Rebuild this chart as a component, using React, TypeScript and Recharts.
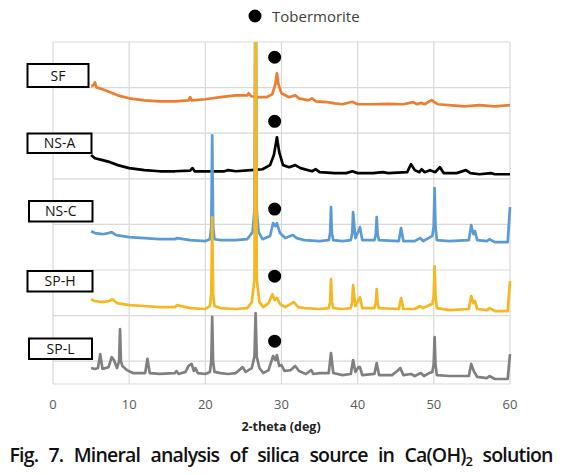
import React from 'react';
import { ComposedChart, Line, Scatter, XAxis, YAxis, CartesianGrid } from 'recharts';

// XRD traces, already stacked (0-15 vertical units, one per grid row)
const sfTrace = [
    [5, 13.06], [5.3, 13.1], [5.5, 13.23], [5.7, 13.01], [6.5, 12.93], [7.5, 12.8], [8.5, 12.66],
    [10, 12.53], [12, 12.44], [14, 12.4], [16, 12.4], [17.8, 12.44], [18, 12.58], [18.2, 12.44],
    [20, 12.49], [22, 12.58], [24, 12.66], [25.5, 12.66], [25.7, 12.75], [26, 12.62], [27, 12.58],
    [28, 12.58], [28.8, 12.71], [29.2, 13.15], [29.4, 13.63], [29.6, 13.15], [30, 12.75], [31, 12.58],
    [31.8, 12.66], [32.3, 12.53], [33.5, 12.44], [34, 12.53], [34.5, 12.4], [36, 12.36], [37, 12.31],
    [38, 12.27], [39.3, 12.38], [40, 12.27], [42, 12.27], [44, 12.29], [46, 12.27], [47.3, 12.36],
    [47.8, 12.27], [48.3, 12.33], [48.8, 12.27], [49.7, 12.45], [50.5, 12.27], [52, 12.23],
    [54, 12.18], [56, 12.23], [58, 12.18], [60, 12.23],
];

const nsaTrace = [
    [5, 10.04], [5.5, 9.9], [6.5, 9.82], [7.5, 9.73], [8.5, 9.6], [10, 9.47], [12, 9.38], [14, 9.33],
    [16, 9.33], [18, 9.36], [18.3, 9.47], [18.6, 9.33], [20, 9.33], [22.5, 9.33], [23, 9.38],
    [24, 9.33], [26, 9.38], [27.5, 9.42], [28.5, 9.6], [29.0, 10.04], [29.4, 10.82], [29.7, 10.17],
    [30.2, 9.6], [31, 9.51], [31.8, 9.6], [32.5, 9.47], [34, 9.33], [34.5, 9.42], [35, 9.29],
    [37, 9.25], [38.5, 9.25], [39.3, 9.33], [40, 9.25], [42, 9.25], [43.3, 9.29], [44, 9.25],
    [46.5, 9.29], [47.0, 9.64], [47.5, 9.38], [48.1, 9.29], [48.4, 9.42], [48.8, 9.29], [49.5, 9.38],
    [50.2, 9.29], [50.8, 9.51], [51.3, 9.25], [53, 9.25], [54.2, 9.38], [54.8, 9.25], [56, 9.2],
    [57.5, 9.25], [58, 9.2], [60, 9.2],
];

const nscTrace = [
    [5, 6.7], [5.5, 6.62], [6.5, 6.57], [7.3, 6.62], [7.7, 6.66], [8.3, 6.53], [10, 6.44], [12, 6.4],
    [14, 6.35], [16, 6.35], [16.3, 6.4], [18, 6.31], [20, 6.27], [20.6, 6.35], [20.78, 6.9], [20.9, 10.91],
    [21.02, 6.9], [21.2, 6.35], [22, 6.31], [24, 6.31], [25.5, 6.35], [26.2, 6.66], [26.45, 7.6], [26.6, 20],
    [26.75, 7.6], [27.0, 6.66], [27.5, 6.35], [28.5, 6.49], [28.9, 7.06], [29.2, 6.92], [29.4, 7.06],
    [29.8, 6.62], [30.5, 6.4], [31.5, 6.53], [32, 6.4], [33, 6.31], [35, 6.27], [36.2, 6.31], [36.38, 6.6],
    [36.5, 7.76], [36.62, 6.6], [36.8, 6.31], [38, 6.27], [39.1, 6.31], [39.28, 6.6], [39.4, 7.54], [39.7, 6.4],
    [40.1, 6.7], [40.3, 6.88], [40.6, 6.31], [42.2, 6.31], [42.38, 6.55], [42.5, 7.32], [42.62, 6.55],
    [42.8, 6.31], [45.4, 6.27], [45.7, 6.84], [46.0, 6.27], [47.5, 6.27], [48.2, 6.4], [48.6, 6.27],
    [49.3, 6.4], [49.8, 6.49], [49.98, 6.9], [50.1, 8.59], [50.22, 6.9], [50.4, 6.31], [52, 6.27],
    [54.6, 6.31], [54.9, 6.97], [55.2, 6.57], [55.4, 6.7], [55.7, 6.31], [57, 6.27], [57.3, 6.35],
    [58, 6.22], [59.7, 6.22], [60, 7.76],
];

const sphTrace = [
    [5, 3.72], [5.5, 3.64], [6.5, 3.59], [7.4, 3.64], [7.8, 3.72], [8.4, 3.55], [10, 3.46], [12, 3.42],
    [14, 3.37], [16, 3.37], [16.3, 3.46], [18, 3.33], [20, 3.29], [20.6, 3.42], [20.78, 3.95], [20.9, 7.32],
    [21.02, 3.95], [21.2, 3.42], [22, 3.33], [24, 3.29], [25.5, 3.33], [26.1, 3.59], [26.45, 4.6], [26.6, 20],
    [26.75, 4.6], [27.1, 3.59], [27.6, 3.37], [28.3, 3.55], [28.8, 3.94], [29.1, 3.68], [29.4, 3.77],
    [29.8, 3.51], [30.5, 3.37], [31.6, 3.59], [32.2, 3.37], [33, 3.33], [35, 3.29], [36.2, 3.33], [36.38, 3.6],
    [36.5, 4.6], [36.62, 3.6], [36.8, 3.33], [38, 3.29], [39.1, 3.33], [39.28, 3.6], [39.4, 4.34], [39.7, 3.42],
    [40.1, 3.68], [40.3, 3.81], [40.6, 3.33], [42.2, 3.33], [42.38, 3.55], [42.5, 4.16], [42.62, 3.55],
    [42.8, 3.33], [45.4, 3.29], [45.7, 3.77], [46.0, 3.29], [47.5, 3.29], [48.2, 3.42], [48.6, 3.33],
    [49.4, 3.46], [49.8, 3.51], [49.98, 3.85], [50.1, 5.17], [50.22, 3.85], [50.4, 3.33], [52, 3.24],
    [54.6, 3.29], [54.9, 3.86], [55.2, 3.55], [55.4, 3.64], [55.7, 3.29], [57, 3.24], [57.3, 3.33],
    [58, 3.2], [59.7, 3.2], [60, 4.51],
];

const splTrace = [
    [5, 0.7], [5.5, 0.66], [5.9, 0.7], [6.2, 1.31], [6.5, 0.66], [7.3, 0.74], [7.7, 1.18], [8.0, 1.05],
    [8.4, 0.7], [8.68, 1.0], [8.8, 2.41], [8.92, 1.0], [9.1, 0.79], [9.7, 0.61], [10.5, 0.48], [12.1, 0.48],
    [12.4, 1.1], [12.7, 0.48], [14, 0.44], [16, 0.48], [16.2, 0.57], [16.5, 0.44], [17.4, 0.53], [17.8, 0.79],
    [18.2, 0.88], [18.5, 0.57], [18.7, 0.7], [19, 0.48], [20, 0.44], [20.6, 0.53], [20.78, 1.0], [20.9, 2.94],
    [21.02, 1.0], [21.2, 0.53], [22, 0.48], [23, 0.44], [24, 0.48], [24.9, 0.74], [25.3, 0.53], [26.1, 0.7],
    [26.45, 1.2], [26.6, 3.11], [26.75, 1.2], [27.1, 0.7], [27.6, 0.48], [28.3, 0.61], [28.9, 1.23],
    [29.2, 1.05], [29.4, 1.27], [29.7, 0.79], [30.0, 0.83], [30.4, 0.57], [31.2, 0.61], [31.8, 0.79],
    [32.3, 0.57], [33.2, 0.44], [33.9, 0.61], [34.2, 0.44], [35, 0.48], [36.2, 0.48], [36.5, 1.36],
    [36.8, 0.48], [38, 0.39], [39.1, 0.44], [39.4, 1.05], [39.7, 0.53], [40.1, 0.74], [40.3, 0.74],
    [40.6, 0.39], [42.2, 0.44], [42.5, 0.92], [42.8, 0.39], [44.5, 0.39], [45.2, 0.57], [45.6, 0.7],
    [46.0, 0.39], [47, 0.44], [47.5, 0.35], [48.3, 0.48], [48.7, 0.35], [49.4, 0.48], [49.8, 0.53],
    [49.98, 0.85], [50.1, 2.06], [50.22, 0.85], [50.4, 0.39], [52, 0.35], [54.6, 0.35], [54.9, 0.88],
    [55.3, 0.53], [55.7, 0.31], [57, 0.26], [57.3, 0.35], [58, 0.22], [59.7, 0.22], [60, 1.31],
];

// tobermorite markers above the ~29 deg peak of each trace
const tobermorite = [
    [29.1, 14.33], [29.1, 11.52], [29.1, 7.67], [29.1, 4.73], [29.1, 1.88],
];

const xTicks = [0, 10, 20, 30, 40, 50, 60];
const yTicks = [0, 1, 2, 3, 4, 5, 6, 7, 8, 9, 10, 11, 12, 13, 14, 15];

const sampleNames = ['SF', 'NS-A', 'NS-C', 'SP-H', 'SP-L'];

const toPts = (arr: number[][]) => arr.map(([x, y]) => ({ x, y }));

const series = [
    { name: 'SF', data: toPts(sfTrace), color: '#ED7D31' },
    { name: 'NS-A', data: toPts(nsaTrace), color: '#000000' },
    { name: 'NS-C', data: toPts(nscTrace), color: '#5B9BD5' },
    { name: 'SP-H', data: toPts(sphTrace), color: '#F5B820' },
    { name: 'SP-L', data: toPts(splTrace), color: '#808080' },
];

// label boxes on the left [x, y, w, h]
const boxes = [
    [27.5, 64, 61, 23],
    [27.5, 133.5, 64, 19.5],
    [29, 201, 63.5, 20.5],
    [27.5, 271, 65, 20.5],
    [29, 338.5, 63, 20.5],
];

const Dot = (props: any) => <circle cx={props.cx} cy={props.cy} r={6.5} fill="#000" />;

export default function App() {
    return (
        <div style={{ position: 'absolute', left: 0, top: 0, width: 573, height: 475, background: '#fff', fontFamily: '"Open Sans", sans-serif' }}>
            <ComposedChart width={573} height={420} margin={{ top: 42, right: 63, bottom: 0, left: 53 }}>
                <CartesianGrid stroke="#D9D9D9" strokeWidth={1.2} horizontalValues={yTicks} verticalValues={xTicks} />
                <XAxis
                    type="number"
                    dataKey="x"
                    domain={[0, 60]}
                    ticks={xTicks}
                    height={36}
                    tickLine={false}
                    tickSize={0}
                    tickMargin={16}
                    axisLine={{ stroke: '#D9D9D9' }}
                    tick={{ fill: '#595959', fontSize: 13 }}
                    allowDuplicatedCategory={false}
                />
                <YAxis type="number" dataKey="y" domain={[0, 15]} ticks={yTicks} hide allowDataOverflow />
                {series.map(s => (
                    <Line
                        key={s.name}
                        data={s.data}
                        dataKey="y"
                        type="linear"
                        stroke={s.color}
                        strokeWidth={2.7}
                        strokeLinejoin="round"
                        dot={false}
                        activeDot={false}
                        isAnimationActive={false}
                    />
                ))}
                <Scatter data={toPts(tobermorite)} dataKey="y" shape={Dot} isAnimationActive={false} />
            </ComposedChart>
            <svg width={573} height={475} style={{ position: 'absolute', left: 0, top: 0, pointerEvents: 'none' }}>
                <circle cx={255} cy={16} r={6.5} fill="#000" />
                <text x={272} y={21.5} fontSize={15} fill="#404040" fontFamily='"Open Sans", sans-serif'>Tobermorite</text>
                {boxes.map(([x, y, w, h], i) => (
                    <g key={sampleNames[i]}>
                        <rect x={x} y={y} width={w} height={h} fill="#fff" stroke="#000" strokeWidth={2} />
                        <text x={x + w / 2} y={y + h / 2 + 5} textAnchor="middle" fontSize={14} fill="#111" fontFamily='"Open Sans", sans-serif'>
                            {sampleNames[i]}
                        </text>
                    </g>
                ))}
                <text x={281} y={431} textAnchor="middle" fontSize={12.5} fontWeight="bold" fill="#222" fontFamily='"Open Sans", sans-serif'>
                    2-theta (deg)
                </text>
                <text x={9.5} y={462} fontSize={19.5} fontWeight={600} fill="#111" wordSpacing={6} textLength={544} lengthAdjust="spacing" fontFamily='"Open Sans", sans-serif'>
                    Fig. 7. Mineral analysis of silica source in Ca(OH)<tspan fontSize={13} dy={4}>2</tspan><tspan dy={-4}> solution</tspan>
                </text>
            </svg>
        </div>
    );
}
